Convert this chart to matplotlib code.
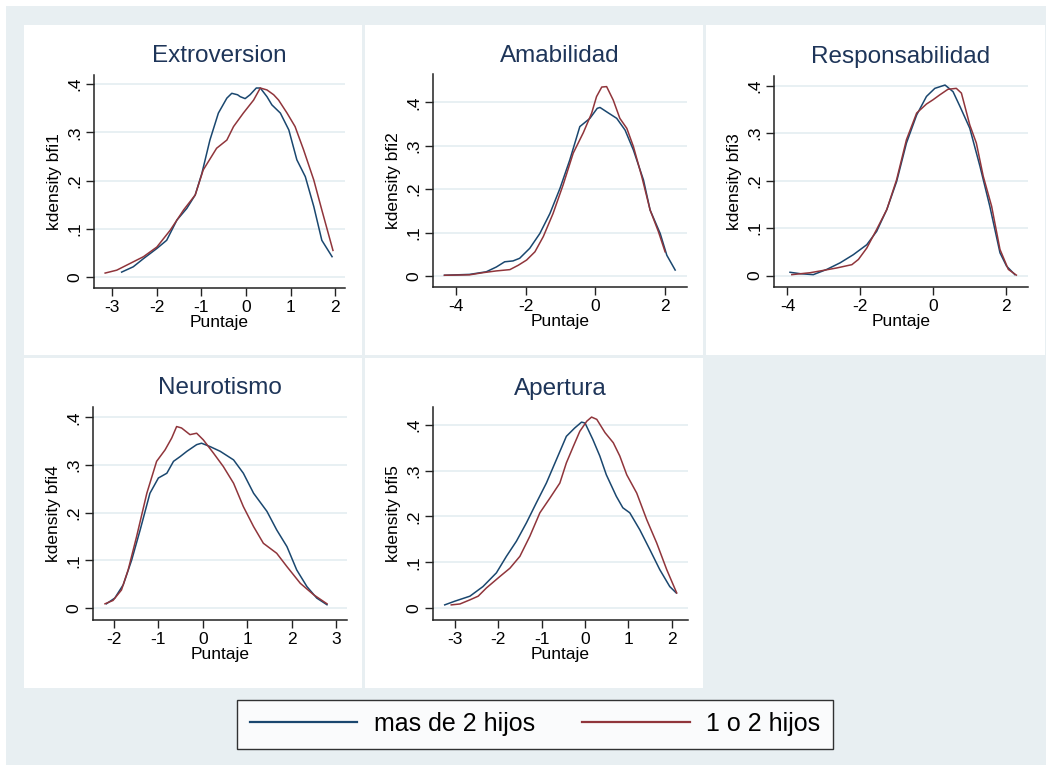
import matplotlib
matplotlib.use("agg")
import matplotlib.pyplot as plt
from matplotlib.patches import Rectangle
from matplotlib.lines import Line2D

plt.rcParams["font.family"] = ["Liberation Sans", "DejaVu Sans"]
plt.rcParams["axes.unicode_minus"] = False

W, H = 1052, 771
NAVY = "#1a476f"
MAROON = "#90353b"
BG = "#e8eff2"
GRID = "#e4edf1"
TITLE_C = "#1e3559"

titles = ["Extroversion", "Amabilidad", "Responsabilidad", "Neurotismo", "Apertura"]
ylabels = ["kdensity bfi1", "kdensity bfi2", "kdensity bfi3", "kdensity bfi4", "kdensity bfi5"]
xlabel = "Puntaje"
xticks = [[-3, -2, -1, 0, 1, 2], [-4, -2, 0, 2], [-4, -2, 0, 2],
          [-2, -1, 0, 1, 2, 3], [-3, -2, -1, 0, 1, 2]]
yticks = [0, 0.1, 0.2, 0.3, 0.4]
ytick_labels = ["0", ".1", ".2", ".3", ".4"]
legend_labels = ["mas de 2 hijos", "1 o 2 hijos"]

# Extroversion
bfi1_mas_x = [-2.79, -2.53, -2.30, -2.00, -1.78, -1.55, -1.33, -1.14, -0.99, -0.81, -0.62,
              -0.43, -0.32, -0.19, -0.13, -0.02, 0.09, 0.23, 0.32, 0.47, 0.58, 0.77, 0.96,
              1.14, 1.33, 1.52, 1.70, 1.93]
bfi1_mas_y = [0.010, 0.021, 0.038, 0.059, 0.076, 0.118, 0.142, 0.170, 0.215, 0.284, 0.340,
              0.371, 0.381, 0.378, 0.374, 0.370, 0.378, 0.392, 0.392, 0.374, 0.357, 0.340, 0.305,
              0.243, 0.208, 0.146, 0.076, 0.042]
bfi1_12_x = [-3.16, -2.90, -2.60, -2.30, -2.00, -1.70, -1.40, -1.14, -0.96, -0.66, -0.43,
             -0.28, -0.06, 0.17, 0.32, 0.47, 0.62, 0.73, 0.92, 1.10, 1.29, 1.52, 1.70, 1.95]
bfi1_12_y = [0.008, 0.014, 0.028, 0.042, 0.062, 0.097, 0.139, 0.170, 0.222, 0.267, 0.284,
             0.312, 0.340, 0.367, 0.392, 0.388, 0.378, 0.367, 0.340, 0.312, 0.264, 0.201, 0.139, 0.055]

# Amabilidad
bfi2_mas_x = [-4.34, -3.62, -3.14, -2.85, -2.61, -2.37, -2.18, -1.89, -1.60, -1.31, -1.02,
              -0.74, -0.45, -0.16, 0.05, 0.13, 0.32, 0.61, 0.85, 1.09, 1.38, 1.57, 1.86, 2.05, 2.29]
bfi2_mas_y = [0.002, 0.004, 0.010, 0.021, 0.033, 0.035, 0.041, 0.064, 0.098, 0.144, 0.202,
              0.267, 0.344, 0.363, 0.386, 0.388, 0.378, 0.363, 0.336, 0.290, 0.221, 0.152, 0.098, 0.048, 0.014]
bfi2_12_x = [-4.34, -3.62, -3.23, -2.85, -2.46, -2.22, -1.98, -1.74, -1.50, -1.22, -0.93,
             -0.64, -0.35, -0.11, 0.03, 0.18, 0.32, 0.51, 0.70, 0.90, 1.09, 1.33, 1.57, 1.81, 2.00]
bfi2_12_y = [0.002, 0.003, 0.008, 0.012, 0.015, 0.025, 0.037, 0.056, 0.091, 0.144, 0.210,
             0.283, 0.330, 0.375, 0.413, 0.435, 0.436, 0.405, 0.363, 0.340, 0.298, 0.229, 0.152, 0.102, 0.056]

# Responsabilidad
bfi3_mas_x = [-3.93, -3.65, -3.29, -2.92, -2.55, -2.19, -1.82, -1.55, -1.27, -1.00, -0.73,
              -0.45, -0.18, 0.05, 0.33, 0.55, 0.74, 1.01, 1.29, 1.56, 1.84, 2.02, 2.25]
bfi3_mas_y = [0.007, 0.004, 0.002, 0.013, 0.027, 0.044, 0.065, 0.093, 0.139, 0.198, 0.279,
              0.338, 0.377, 0.394, 0.401, 0.387, 0.356, 0.310, 0.230, 0.146, 0.048, 0.020, 0.002]
bfi3_12_x = [-3.88, -3.38, -3.01, -2.65, -2.23, -2.05, -1.82, -1.55, -1.27, -1.00, -0.73,
             -0.45, -0.18, 0.00, 0.18, 0.41, 0.64, 0.78, 1.01, 1.19, 1.38, 1.61, 1.84, 2.07, 2.29]
bfi3_12_y = [0.002, 0.006, 0.011, 0.016, 0.023, 0.034, 0.058, 0.097, 0.139, 0.202, 0.286,
             0.342, 0.361, 0.370, 0.380, 0.392, 0.394, 0.384, 0.317, 0.279, 0.209, 0.146, 0.055, 0.013, 0.001]

# Neurotismo
bfi4_mas_x = [-2.17, -1.98, -1.79, -1.60, -1.41, -1.19, -1.00, -0.81, -0.66, -0.51, -0.36,
              -0.14, -0.03, 0.16, 0.39, 0.69, 0.91, 1.14, 1.44, 1.66, 1.89, 2.11, 2.34, 2.56, 2.79]
bfi4_mas_y = [0.009, 0.021, 0.049, 0.101, 0.164, 0.241, 0.273, 0.283, 0.308, 0.318, 0.329,
              0.343, 0.346, 0.339, 0.329, 0.311, 0.283, 0.241, 0.203, 0.164, 0.129, 0.080, 0.045, 0.021, 0.007]
bfi4_12_x = [-2.20, -2.02, -1.83, -1.68, -1.49, -1.26, -1.04, -0.85, -0.70, -0.59, -0.48,
             -0.29, -0.14, 0.01, 0.24, 0.46, 0.69, 0.91, 1.14, 1.36, 1.66, 1.89, 2.19, 2.49, 2.79]
bfi4_12_y = [0.009, 0.016, 0.038, 0.080, 0.150, 0.241, 0.308, 0.332, 0.357, 0.381, 0.378,
             0.364, 0.367, 0.353, 0.325, 0.297, 0.262, 0.213, 0.171, 0.136, 0.115, 0.087, 0.052, 0.028, 0.009]

# Apertura
bfi5_mas_x = [-3.23, -3.00, -2.65, -2.35, -2.04, -1.81, -1.58, -1.35, -1.12, -0.89, -0.66,
              -0.43, -0.24, -0.08, 0.00, 0.18, 0.34, 0.49, 0.72, 0.87, 1.03, 1.26, 1.49, 1.72, 1.95, 2.10]
bfi5_mas_y = [0.007, 0.015, 0.026, 0.047, 0.077, 0.113, 0.146, 0.186, 0.230, 0.273, 0.324,
              0.375, 0.393, 0.406, 0.404, 0.368, 0.332, 0.291, 0.244, 0.219, 0.208, 0.171, 0.128, 0.084, 0.047, 0.033]
bfi5_12_x = [-3.08, -2.88, -2.65, -2.46, -2.27, -1.96, -1.73, -1.50, -1.27, -1.04, -0.81,
             -0.58, -0.43, -0.27, -0.12, 0.04, 0.15, 0.27, 0.46, 0.65, 0.80, 0.96, 1.19, 1.42, 1.65, 1.88, 2.11]
bfi5_12_y = [0.007, 0.009, 0.018, 0.026, 0.044, 0.069, 0.087, 0.113, 0.157, 0.208, 0.240,
             0.273, 0.317, 0.353, 0.386, 0.408, 0.417, 0.412, 0.383, 0.361, 0.332, 0.291, 0.251, 0.193, 0.142, 0.084, 0.033]

series_mas = [(bfi1_mas_x, bfi1_mas_y), (bfi2_mas_x, bfi2_mas_y), (bfi3_mas_x, bfi3_mas_y),
              (bfi4_mas_x, bfi4_mas_y), (bfi5_mas_x, bfi5_mas_y)]
series_12 = [(bfi1_12_x, bfi1_12_y), (bfi2_12_x, bfi2_12_y), (bfi3_12_x, bfi3_12_y),
             (bfi4_12_x, bfi4_12_y), (bfi5_12_x, bfi5_12_y)]

# plot region in pixels: left, top, right, bottom, and data limits
axes_px = [(94, 75, 345, 288), (433, 74, 687, 287), (774, 76, 1028, 287),
           (93, 407, 347, 620), (433, 407, 688, 620)]
xlims = [(-3.41, 2.22), (-4.67, 2.63), (-4.37, 2.61), (-2.47, 3.24), (-3.50, 2.37)]
ylims = [(-0.023, 0.419), (-0.025, 0.465), (-0.024, 0.420), (-0.025, 0.422), (-0.026, 0.439)]
panels_px = [(24, 25, 362, 355), (365, 25, 703, 355), (706, 25, 1045, 355),
             (24, 358, 362, 688), (365, 358, 703, 688)]


def fig_rect(l, t, r, b):
    return [l / W, 1 - b / H, (r - l) / W, (b - t) / H]


fig = plt.figure(figsize=(W / 100, H / 100), dpi=100)
fig.patch.set_facecolor("white")

l, b, w, h = fig_rect(6, 6, 1046, 765)
fig.add_artist(Rectangle((l, b), w, h, transform=fig.transFigure, facecolor=BG,
                         edgecolor="none", zorder=-3))
for p in panels_px:
    l, b, w, h = fig_rect(*p)
    fig.add_artist(Rectangle((l, b), w, h, transform=fig.transFigure, facecolor="white",
                             edgecolor="none", zorder=-2))

for i in range(5):
    ax = fig.add_axes(fig_rect(*axes_px[i]))
    ax.patch.set_alpha(0)
    ax.plot(*series_mas[i], color=NAVY, lw=1.1)
    ax.plot(*series_12[i], color=MAROON, lw=1.1)
    ax.set_xlim(*xlims[i])
    ax.set_ylim(*ylims[i])
    ax.set_xticks(xticks[i])
    ax.set_xticklabels([str(t) for t in xticks[i]])
    ax.set_yticks(yticks)
    ax.set_yticklabels(ytick_labels, rotation=90, va="center")
    ax.grid(axis="y", color=GRID, lw=1.2)
    ax.set_axisbelow(True)
    for s in ("top", "right"):
        ax.spines[s].set_visible(False)
    for s in ("left", "bottom"):
        ax.spines[s].set_linewidth(1.1)
        ax.spines[s].set_color("#222222")
    ax.tick_params(direction="out", length=6, width=1.0, labelsize=12.5, pad=2.5,
                   color="#222222")
    ax.set_title(titles[i], fontsize=17.5, color=TITLE_C, pad=9)
    ax.set_xlabel(xlabel, fontsize=12.5, labelpad=0)
    ax.set_ylabel(ylabels[i], fontsize=12.5, labelpad=4)

handles = [Line2D([], [], color=NAVY, lw=1.6), Line2D([], [], color=MAROON, lw=1.6)]
leg = fig.legend(handles, legend_labels, loc="center", bbox_to_anchor=(535 / W, 1 - 724 / H),
                 ncol=2, fontsize=18, frameon=True, fancybox=False, edgecolor="black",
                 handlelength=4.3, handletextpad=0.65, columnspacing=1.9, borderpad=0.5)
leg.get_frame().set_linewidth(1.0)

fig.savefig("out.png", dpi=100)
